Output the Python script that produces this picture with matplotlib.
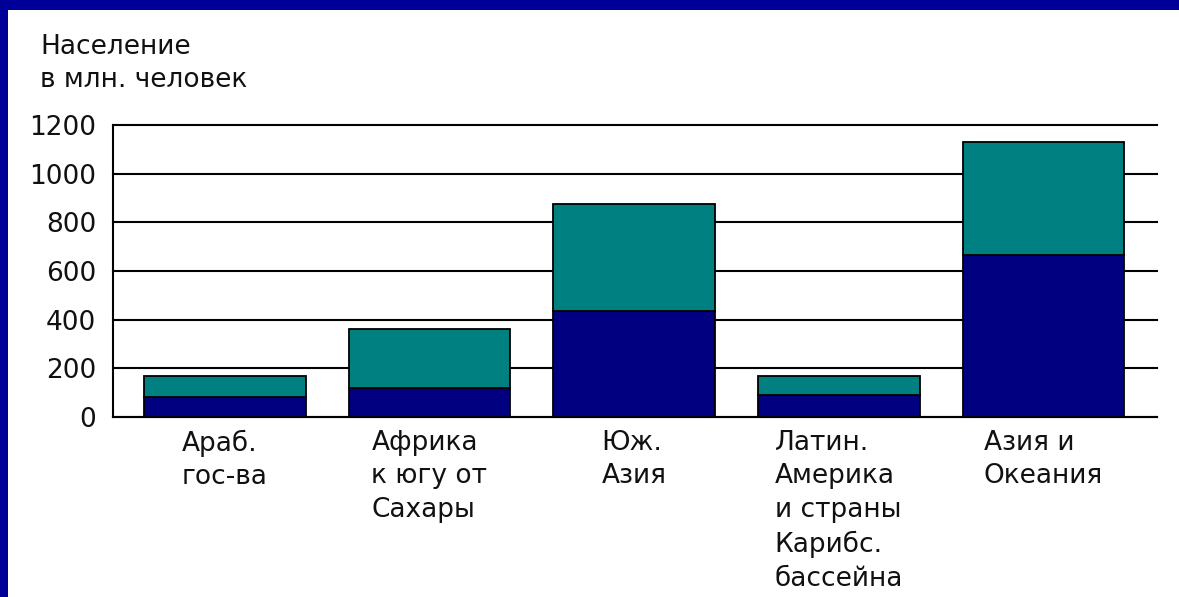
import matplotlib
matplotlib.use('Agg')
import matplotlib.pyplot as plt
import numpy as np

# population in mln, split into two parts per region
regions = ['Араб.\nгос-ва', 'Африка\nк югу от\nСахары', 'Юж.\nАзия',
           'Латин.\nАмерика\nи страны\nКарибс.\nбассейна', 'Азия и\nОкеания']
lower = [82, 118, 435, 90, 665]
upper = [86, 242, 440, 80, 465]
yticks = [0, 200, 400, 600, 800, 1000, 1200]

plt.rcParams['font.family'] = ['DejaVu Sans']

fig = plt.figure(figsize=(11.79, 5.97), dpi=100, facecolor='#000099')
# white panel inside the blue frame
fig.patches.append(plt.Rectangle((8 / 1179, 0), 1, 1 - 10 / 597,
                                 transform=fig.transFigure, facecolor='white',
                                 edgecolor='none', zorder=-10))

ax = fig.add_axes([0.0958, 0.3015, 0.8855, 0.4891])
ax.set_facecolor('white')
x = np.arange(len(regions))
ax.bar(x, lower, width=0.79, color='#000080', edgecolor='black', linewidth=1.3, zorder=3)
ax.bar(x, upper, bottom=lower, width=0.79, color='#008080', edgecolor='black',
       linewidth=1.3, zorder=3)

ax.set_xlim(-0.546, 4.554)
ax.set_ylim(0, 1200)
ax.set_yticks(yticks)
ax.set_yticklabels([str(v) for v in yticks], fontsize=19, color='#111111')
ax.tick_params(axis='y', length=0, pad=12)
ax.set_xticks([])
ax.yaxis.grid(True, color='black', linewidth=1.5, zorder=1)
for gl in ax.get_ygridlines():
    gl.set_clip_on(False)
ax.set_axisbelow(True)
for side in ['top', 'right']:
    ax.spines[side].set_visible(False)
ax.spines['left'].set_linewidth(1.5)
ax.spines['bottom'].set_linewidth(1.5)
ax.spines['left'].set_zorder(4)

for i, lab in enumerate(regions):
    ax.annotate(lab, xy=(i, 0), xycoords='data', xytext=(0, -9),
                textcoords='offset points', ha='center', va='top',
                multialignment='left', fontsize=19, linespacing=1.38,
                color='#111111')

fig.text(40 / 1179, 1 - 34 / 597, 'Население\nв млн. человек', ha='left', va='top',
         fontsize=19, linespacing=1.35, color='#111111')

fig.savefig('out.png', dpi=100, facecolor=fig.get_facecolor())
